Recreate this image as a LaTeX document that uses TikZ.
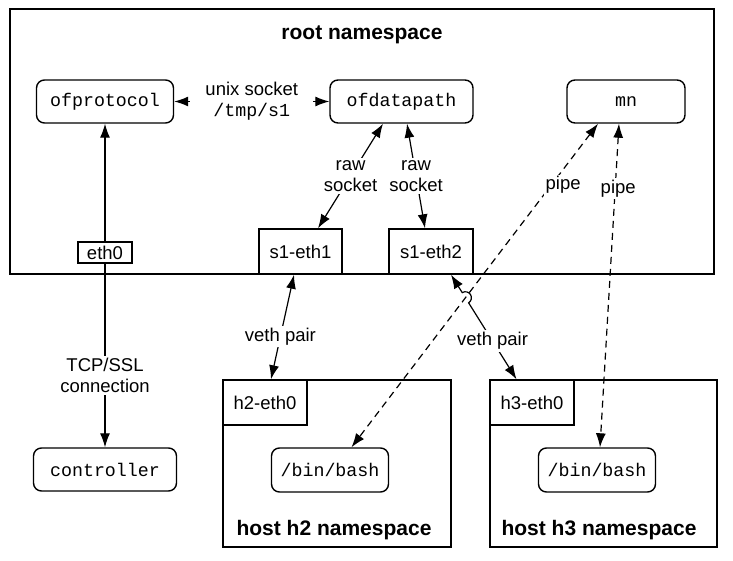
\documentclass[tikz,border=0pt]{standalone}
\usepackage{fontspec}
\setmainfont{Liberation Sans}
\setmonofont{Liberation Mono}
\usetikzlibrary{arrows.meta,positioning,calc,intersections}

\newcommand{\lbltxt}{\fontsize{18.5}{21}\selectfont}
\newcommand{\titletxt}{\fontsize{21}{24}\selectfont\bfseries}
\newcommand{\codetxt}{\fontsize{18.3}{21}\selectfont\ttfamily}

\tikzset{head/.tip={Latex[length=14pt,width=10pt]}}

\begin{document}
\begin{tikzpicture}[
    x=1pt, y=1pt,
    ns/.style={draw, line width=1.4pt, fill=white},
    proc/.style={draw, rounded corners=8pt, line width=1.4pt, fill=white, minimum height=43pt, font=\codetxt},
    iface/.style={draw, line width=1.4pt, fill=white, minimum height=45pt, font=\lbltxt, inner sep=0pt},
    lbl/.style={fill=white, align=center, font=\lbltxt, inner sep=2pt},
    title/.style={font=\titletxt},
    link/.style={line width=1.2pt},
    pipe/.style={link, head-head, dash pattern=on 7pt off 5pt}
]
    \useasboundingbox (0,0) rectangle (733,-561);

    % root namespace
    \node[ns, minimum width=704pt, minimum height=265pt] (root) at (362,-141.5) {};
    \node[title] at (362,-35) {root namespace};
    \node[proc, minimum width=137pt] (ofp) at (105,-101.5) {ofprotocol};
    \node[proc, minimum width=143pt] (ofd) at (401.5,-101.5) {ofdatapath};
    \node[proc, minimum width=118pt] (mn) at (626,-101.5) {mn};
    \node[iface, minimum width=54pt, minimum height=21pt] (eth0) at (105,-252.5) {eth0};
    \node[iface, minimum width=83pt] (s1ethone) at (300.5,-251.5) {s1-eth1};
    \node[iface, minimum width=84pt] (s1ethtwo) at (431,-251.5) {s1-eth2};

    % hosts
    \node[ns, minimum width=228pt, minimum height=167pt] (htwo) at (337,-463.5) {};
    \node[ns, minimum width=227pt, minimum height=167pt] (hthree) at (603.5,-463.5) {};
    \node[iface, minimum width=84pt, anchor=north west] (htwoeth) at (htwo.north west) {h2-eth0};
    \node[iface, minimum width=84pt, anchor=north west] (hthreeeth) at (hthree.north west) {h3-eth0};
    \node[proc, minimum width=117pt, minimum height=44pt] (bashtwo) at (330,-470) {/bin/bash};
    \node[proc, minimum width=117pt, minimum height=44pt] (bashthree) at (597,-470) {/bin/bash};
    \node[title] at (334,-530) {host h2 namespace};
    \node[title] at (599,-530) {host h3 namespace};

    \node[proc, minimum width=143pt] (ctrl) at (105,-469.5) {controller};

    % links
    \draw[link,head-head] (ofp) -- (ofd) node[midway, lbl, inner xsep=15pt] {unix socket\\{\codetxt /tmp/s1}};
    \draw[link,-head] (eth0) -- (ofp);
    \draw[link,-head] (eth0) -- (ctrl) node[pos=0.61, lbl] {TCP/SSL\\connection};
    \draw[link,head-head] ([xshift=-18.5pt]ofd.south) -- ([xshift=17.5pt]s1ethone.north) node[midway, lbl] {raw\\socket};
    \draw[link,head-head] ([xshift=5.5pt]ofd.south) -- ([xshift=-6pt]s1ethtwo.north) node[midway, lbl] {raw\\socket};
    \draw[link,head-head] ([xshift=-6.5pt]s1ethone.south) -- ([xshift=6pt]htwoeth.north) node[pos=0.59, lbl] {veth pair};

    % pipes
    \coordinate (pipetop) at ([xshift=-28pt]mn.south);
    \coordinate (pipebot) at ([xshift=21.5pt]bashtwo.north);
    \draw[pipe, name path=pipeline] (pipetop) -- (pipebot) node[pos=0.19, lbl, xshift=12pt] {pipe};
    \draw[pipe] ([xshift=-7pt]mn.south) -- ([xshift=3pt]bashthree.north) node[pos=0.2, lbl, xshift=3pt] {pipe};

    % second veth pair, hopping over the pipe
    \coordinate (vethtop) at ([xshift=20pt]s1ethtwo.south);
    \coordinate (vethbot) at ([xshift=-15.5pt]hthreeeth.north);
    \path[name path=vethline] (vethtop) -- (vethbot);
    \path[name intersections={of=pipeline and vethline, by=hop}];
    \coordinate (hopin) at ($(hop)!6pt!(vethtop)$);
    \draw[link,head-head] let \p1=($(vethbot)-(vethtop)$), \n1={atan2(\y1,\x1)} in
        (vethtop) -- (hopin) arc[start angle=\n1+180, end angle=\n1, radius=6pt] -- (vethbot)
        node[midway, lbl] {veth pair};
\end{tikzpicture}
\end{document}
